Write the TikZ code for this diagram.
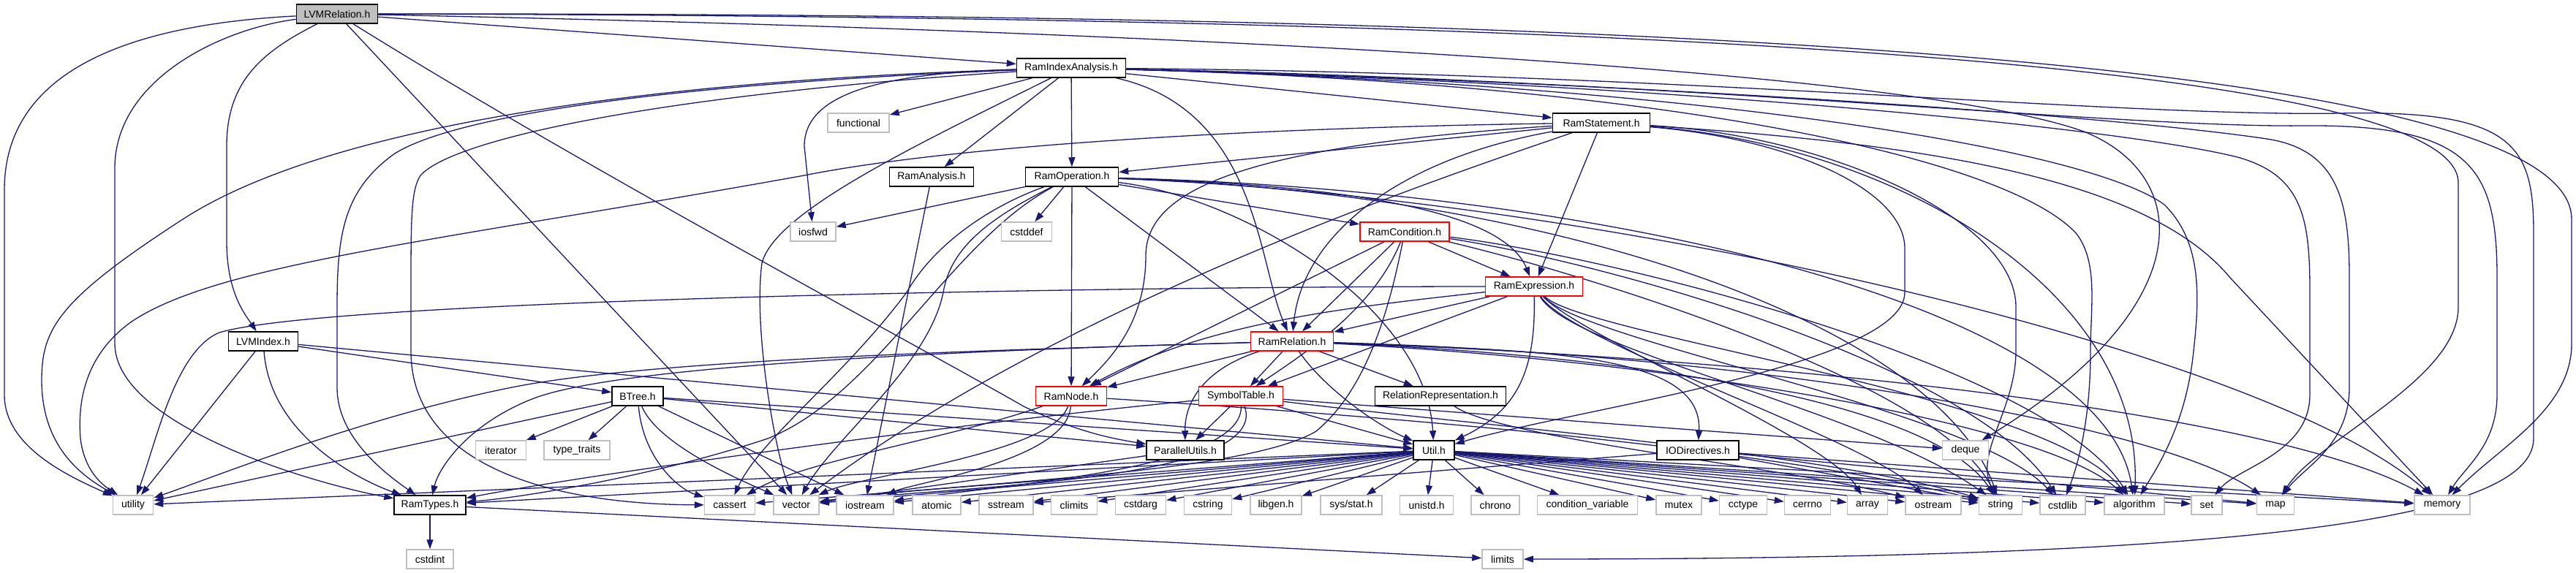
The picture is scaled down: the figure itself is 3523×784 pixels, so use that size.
\documentclass[tikz,border=0pt]{standalone}
\usepackage{fontspec}
\setmainfont{Liberation Sans}
\usetikzlibrary{arrows.meta}
\pgfdeclarelayer{edgelayer}
\pgfsetlayers{edgelayer,main}
\definecolor{eblue}{HTML}{191970}
\definecolor{sysgray}{HTML}{BFBFBF}
\definecolor{rootfill}{HTML}{BFBFBF}
\tikzset{
  nd/.style={draw, minimum height=26pt, inner sep=0pt, font=\fontsize{14}{16}\selectfont, fill=white},
  usr/.style={nd, draw=black, line width=1.5pt},
  sysn/.style={nd, draw=sysgray, line width=1.5pt},
  redn/.style={nd, draw=red, line width=1.5pt},
  rootn/.style={nd, draw=black, fill=rootfill, line width=1.5pt},
  dep/.style={draw=eblue, line width=1.3pt, -{Triangle[length=13pt,width=9pt]}}
}
\begin{document}
\begin{tikzpicture}[x=1pt,y=-1pt]
\useasboundingbox (0,0) rectangle (3523,784);
% ---------- nodes ----------
\node[rootn, minimum width=111pt] (lvmrel) at (461,19) {LVMRelation.h};
\node[usr, minimum width=149pt] (ria) at (1465,93) {RamIndexAnalysis.h};
\node[sysn, minimum width=84pt] (functional) at (1174,168) {functional};
\node[usr, minimum width=133pt] (rstmt) at (2190,168) {RamStatement.h};
\node[usr, minimum width=115pt] (ranal) at (1274,242) {RamAnalysis.h};
\node[usr, minimum width=127pt] (rop) at (1466,242) {RamOperation.h};
\node[sysn, minimum width=62pt] (iosfwd) at (1112,317) {iosfwd};
\node[sysn, minimum width=69pt] (cstddef) at (1404,317) {cstddef};
\node[redn, minimum width=122pt] (rcond) at (1921,317) {RamCondition.h};
\node[redn, minimum width=133pt] (rexpr) at (2098,392) {RamExpression.h};
\node[usr, minimum width=95pt] (lvmidx) at (360,467) {LVMIndex.h};
\node[redn, minimum width=113pt] (rrel) at (1767,467) {RamRelation.h};
\node[usr, minimum width=70pt] (btree) at (872,542) {BTree.h};
\node[redn, minimum width=97pt] (rnode) at (1465,542) {RamNode.h};
\node[redn, minimum width=115pt] (symtab) at (1697,542) {SymbolTable.h};
\node[usr, minimum width=179pt] (relrep) at (1970,542) {RelationRepresentation.h};
\node[sysn, minimum width=69pt] (iterator) at (685,616) {iterator};
\node[sysn, minimum width=90pt] (typetraits) at (789,616) {type\_traits};
\node[usr, minimum width=106pt] (parutils) at (1621,616) {ParallelUtils.h};
\node[usr, minimum width=56pt] (util) at (1961,616) {Util.h};
\node[usr, minimum width=112pt] (iodir) at (2322,616) {IODirectives.h};
\node[sysn, minimum width=63pt] (deque) at (2688,616) {deque};
\node[sysn, minimum width=55pt] (utility) at (182,691) {utility};
\node[usr, minimum width=98pt] (ramtypes) at (588,691) {RamTypes.h};
\node[sysn, minimum width=69pt] (cassert) at (998,691) {cassert};
\node[sysn, minimum width=62pt] (vector) at (1089,691) {vector};
\node[sysn, minimum width=78pt] (iostream) at (1183,691) {iostream};
\node[sysn, minimum width=66pt] (atomic) at (1281,691) {atomic};
\node[sysn, minimum width=74pt] (sstream) at (1376,691) {sstream};
\node[sysn, minimum width=63pt] (climits) at (1469,691) {climits};
\node[sysn, minimum width=69pt] (cstdarg) at (1560,691) {cstdarg};
\node[sysn, minimum width=65pt] (cstring) at (1652,691) {cstring};
\node[sysn, minimum width=70pt] (libgen) at (1745,691) {libgen.h};
\node[sysn, minimum width=84pt] (sysstat) at (1848,691) {sys/stat.h};
\node[sysn, minimum width=73pt] (unistd) at (1951,691) {unistd.h};
\node[sysn, minimum width=66pt] (chrono) at (2045,691) {chrono};
\node[sysn, minimum width=137pt] (condvar) at (2171,691) {condition\_variable};
\node[sysn, minimum width=62pt] (mutex) at (2296,691) {mutex};
\node[sysn, minimum width=65pt] (cctype) at (2384,691) {cctype};
\node[sysn, minimum width=63pt] (cerrno) at (2472,691) {cerrno};
\node[sysn, minimum width=55pt] (array) at (2554,691) {array};
\node[sysn, minimum width=76pt] (ostream) at (2644,691) {ostream};
\node[sysn, minimum width=59pt] (string) at (2736,691) {string};
\node[sysn, minimum width=62pt] (cstdlib) at (2821,691) {cstdlib};
\node[sysn, minimum width=82pt] (algorithm) at (2919,691) {algorithm};
\node[sysn, minimum width=42pt] (set) at (3018,691) {set};
\node[sysn, minimum width=51pt] (map) at (3112,691) {map};
\node[sysn, minimum width=76pt] (memory) at (3340,691) {memory};
\node[sysn, minimum width=64pt] (cstdint) at (588,765) {cstdint};
\node[sysn, minimum width=56pt] (limits) at (2055,765) {limits};
% ---------- edges ----------
\begin{pgfonlayer}{edgelayer}
% LVMRelation.h
\draw[dep] (lvmrel) .. controls (150,35) and (6,110) .. (6,260) -- (6,540) .. controls (6,610) and (90,650) .. (utility);
\draw[dep] (lvmrel) .. controls (300,40) and (157,110) .. (157,230) -- (157,470) .. controls (157,580) and (420,660) .. (ramtypes);
\draw[dep] (lvmrel) .. controls (360,70) and (310,110) .. (310,200) -- (310,330) .. controls (310,400) and (335,430) .. (lvmidx);
\draw[dep] (lvmrel) -- (vector);
\draw[dep] (lvmrel) .. controls (800,230) and (1250,470) .. (1400,556) .. controls (1470,590) and (1520,600) .. (parutils);
\draw[dep] (lvmrel) -- (ria);
\draw[dep] (lvmrel) .. controls (2000,18) and (3517,60) .. (3517,300) -- (3517,470) .. controls (3517,560) and (3420,610) .. (memory);
\draw[dep] (lvmrel) .. controls (2000,22) and (3362,70) .. (3362,250) -- (3362,420) .. controls (3362,520) and (3170,600) .. (map);
\draw[dep] (lvmrel) .. controls (1500,40) and (2600,90) .. (2850,180) .. controls (3000,240) and (3010,420) .. (deque);
% LVMIndex.h
\draw[dep] (lvmidx) -- (utility);
\draw[dep] (lvmidx) .. controls (370,600) and (500,660) .. (ramtypes);
\draw[dep] (lvmidx) -- (btree);
\draw[dep] (lvmidx) -- (util);
% BTree.h
\draw[dep] (btree) -- (utility);
\draw[dep] (btree) -- (iterator);
\draw[dep] (btree) -- (typetraits);
\draw[dep] (btree) .. controls (880,630) and (930,670) .. (cassert);
\draw[dep] (btree) .. controls (900,610) and (1020,660) .. (vector);
\draw[dep] (btree) -- (iostream);
\draw[dep] (btree) -- (parutils);
\draw[dep] (btree) -- (util);
% RamTypes.h
\draw[dep] (ramtypes) -- (cstdint);
\draw[dep] (ramtypes) -- (limits);
% RamIndexAnalysis.h
\draw[dep] (ria) -- (functional);
\draw[dep] (ria) -- (ranal);
\draw[dep] (ria) -- (rop);
\draw[dep] (ria) -- (rstmt);
\draw[dep] (ria) .. controls (1200,100) and (1100,130) .. (1100,200) -- (iosfwd);
\draw[dep] (ria) .. controls (1720,150) and (1720,360) .. (rrel);
\draw[dep] (ria) .. controls (900,110) and (450,170) .. (250,300) .. controls (80,410) and (57,450) .. (57,520) .. controls (57,610) and (110,650) .. (utility);
\draw[dep] (ria) .. controls (900,115) and (620,160) .. (540,210) .. controls (470,260) and (461,320) .. (461,420) -- (461,530) .. controls (461,600) and (530,650) .. (ramtypes);
\draw[dep] (ria) .. controls (900,130) and (620,190) .. (575,240) .. controls (562,260) and (562,300) .. (562,400) -- (562,480) .. controls (562,640) and (760,690) .. (cassert);
\draw[dep] (ria) .. controls (1250,200) and (1060,290) .. (1042,360) .. controls (1030,450) and (1060,620) .. (vector);
\draw[dep] (ria) .. controls (2300,100) and (2900,160) .. (3200,155) .. controls (3440,150) and (3465,200) .. (3465,320) -- (3465,600) .. controls (3465,720) and (3000,765) .. (limits);
\draw[dep] (ria) .. controls (2300,110) and (2900,175) .. (3150,172) .. controls (3380,170) and (3415,230) .. (3415,380) -- (3415,540) .. controls (3415,610) and (3370,640) .. (memory);
\draw[dep] (ria) .. controls (2300,115) and (2900,160) .. (3100,190) .. controls (3200,205) and (3213,280) .. (3213,380) -- (3213,530) .. controls (3213,610) and (3150,640) .. (map);
\draw[dep] (ria) .. controls (2300,115) and (2900,175) .. (3060,215) .. controls (3150,240) and (3159,300) .. (3159,400) -- (3159,540) .. controls (3159,620) and (3060,640) .. (set);
\draw[dep] (ria) .. controls (2300,115) and (2850,200) .. (2960,280) .. controls (3010,330) and (3009,400) .. (3000,480) .. controls (2990,580) and (2950,640) .. (algorithm);
\draw[dep] (ria) .. controls (2300,115) and (2750,220) .. (2840,320) .. controls (2870,360) and (2859,420) .. (2859,480) .. controls (2859,580) and (2840,640) .. (cstdlib);
% RamAnalysis.h
\draw[dep] (ranal) -- (iostream);
% RamStatement.h
\draw[dep] (rstmt) -- (rop);
\draw[dep] (rstmt) -- (rexpr);
\draw[dep] (rstmt) .. controls (1900,220) and (1780,330) .. (rrel);
\draw[dep] (rstmt) .. controls (1700,200) and (1567,260) .. (1567,350) .. controls (1567,440) and (1520,490) .. (rnode);
\draw[dep] (rstmt) .. controls (1700,175) and (1300,200) .. (1100,240) .. controls (600,330) and (300,360) .. (180,440) .. controls (110,490) and (107,560) .. (110,600) .. controls (115,640) and (135,660) .. (utility);
\draw[dep] (rstmt) .. controls (1950,250) and (1450,420) .. (vector);
\draw[dep] (rstmt) .. controls (2450,190) and (2605,260) .. (2605,340) -- (2605,400) .. controls (2605,500) and (2150,560) .. (util);
\draw[dep] (rstmt) .. controls (2500,185) and (2757,300) .. (2757,420) -- (2757,480) .. controls (2757,560) and (2700,620) .. (string);
\draw[dep] (rstmt) .. controls (2700,200) and (2950,260) .. (3050,380) -- (memory);
\draw[dep] (rstmt) .. controls (2600,200) and (2930,400) .. (algorithm);
% RamOperation.h
\draw[dep] (rop) -- (iosfwd);
\draw[dep] (rop) -- (cstddef);
\draw[dep] (rop) -- (rnode);
\draw[dep] (rop) -- (rrel);
\draw[dep] (rop) -- (rcond);
\draw[dep] (rop) .. controls (1900,255) and (2060,300) .. (rexpr);
\draw[dep] (rop) .. controls (1300,330) and (1200,540) .. (1050,600) .. controls (900,650) and (720,680) .. (ramtypes);
\draw[dep] (rop) .. controls (1360,280) and (1280,330) .. (1240,400) .. controls (1150,520) and (1040,600) .. (cassert);
\draw[dep] (rop) .. controls (1350,300) and (1300,340) .. (1290,400) .. controls (1270,500) and (1140,600) .. (vector);
\draw[dep] (rop) .. controls (1700,270) and (1950,420) .. (util);
\draw[dep] (rop) .. controls (2200,270) and (3100,480) .. (memory);
\draw[dep] (rop) .. controls (2150,265) and (2650,450) .. (string);
\draw[dep] (rop) .. controls (2200,260) and (2880,420) .. (algorithm);
% RamCondition.h
\draw[dep] (rcond) -- (rexpr);
\draw[dep] (rcond) -- (rrel);
\draw[dep] (rcond) -- (rnode);
\draw[dep] (rcond) .. controls (1880,420) and (1790,480) .. (symtab);
\draw[dep] (rcond) .. controls (1895,450) and (1860,540) .. (1800,590) .. controls (1700,650) and (1300,660) .. (vector);
\draw[dep] (rcond) .. controls (2200,360) and (2700,500) .. (cstdlib);
\draw[dep] (rcond) .. controls (2200,350) and (2800,500) .. (algorithm);
\draw[dep] (rcond) .. controls (2150,370) and (2650,520) .. (string);
% RamExpression.h
\draw[dep] (rexpr) -- (rrel);
\draw[dep] (rexpr) -- (symtab);
\draw[dep] (rexpr) .. controls (1850,420) and (1650,440) .. (rnode);
\draw[dep] (rexpr) .. controls (1500,392) and (450,410) .. (300,455) .. controls (240,480) and (215,600) .. (utility);
\draw[dep] (rexpr) .. controls (2100,500) and (2080,560) .. (util);
\draw[dep] (rexpr) .. controls (2150,480) and (2550,560) .. (string);
\draw[dep] (rexpr) .. controls (2170,470) and (2700,560) .. (cstdlib);
\draw[dep] (rexpr) .. controls (2170,460) and (2800,540) .. (algorithm);
\draw[dep] (rexpr) .. controls (2160,460) and (2500,600) .. (array);
\draw[dep] (rexpr) .. controls (2150,470) and (2550,600) .. (ostream);
% RamRelation.h
\draw[dep] (rrel) -- (rnode);
\draw[dep] (rrel) -- (symtab);
\draw[dep] (rrel) -- (relrep);
\draw[dep] (rrel) .. controls (1810,530) and (1880,580) .. (util);
\draw[dep] (rrel) .. controls (1660,500) and (1620,540) .. (parutils);
\draw[dep] (rrel) .. controls (1400,478) and (900,490) .. (700,530) .. controls (500,570) and (300,650) .. (utility);
\draw[dep] (rrel) .. controls (1300,480) and (850,500) .. (730,545) .. controls (640,580) and (600,640) .. (ramtypes);
\draw[dep] (rrel) .. controls (2100,480) and (2330,480) .. (iodir);
\draw[dep] (rrel) .. controls (2300,490) and (2650,560) .. (string);
\draw[dep] (rrel) .. controls (2400,490) and (3100,560) .. (memory);
\draw[dep] (rrel) .. controls (2400,485) and (2950,580) .. (map);
\draw[dep] (rrel) .. controls (2300,495) and (2800,580) .. (algorithm);
% SymbolTable.h
\draw[dep] (symtab) -- (parutils);
\draw[dep] (symtab) -- (util);
\draw[dep] (symtab) -- (deque);
\draw[dep] (symtab) .. controls (1300,580) and (800,650) .. (ramtypes);
\draw[dep] (symtab) .. controls (1700,640) and (1400,660) .. (iostream);
\draw[dep] (symtab) .. controls (1740,660) and (1300,665) .. (vector);
\draw[dep] (symtab) .. controls (2000,580) and (2500,620) .. (string);
% RamNode.h
\draw[dep] (rnode) .. controls (1300,600) and (1100,630) .. (cassert);
\draw[dep] (rnode) .. controls (1460,630) and (1250,660) .. (iostream);
\draw[dep] (rnode) .. controls (1440,620) and (1180,650) .. (vector);
\draw[dep] (rnode) .. controls (1900,570) and (2400,610) .. (string);
% ParallelUtils.h
\draw[dep] (parutils) -- (vector);
% RelationRepresentation.h
\draw[dep] (relrep) .. controls (2050,600) and (2450,640) .. (ostream);
% IODirectives.h
\draw[dep] (iodir) -- (sstream);
\draw[dep] (iodir) -- (map);
\draw[dep] (iodir) -- (memory);
\draw[dep] (iodir) -- (string);
% Util.h
\foreach \t in {utility,ramtypes,cassert,vector,iostream,atomic,sstream,climits,cstdarg,cstring,libgen,sysstat,unistd,chrono,condvar,mutex,cctype,cerrno,array,ostream,string,cstdlib,algorithm,set,map,memory}
  \draw[dep] (util) -- (\t);
\end{pgfonlayer}
\end{tikzpicture}
\end{document}
